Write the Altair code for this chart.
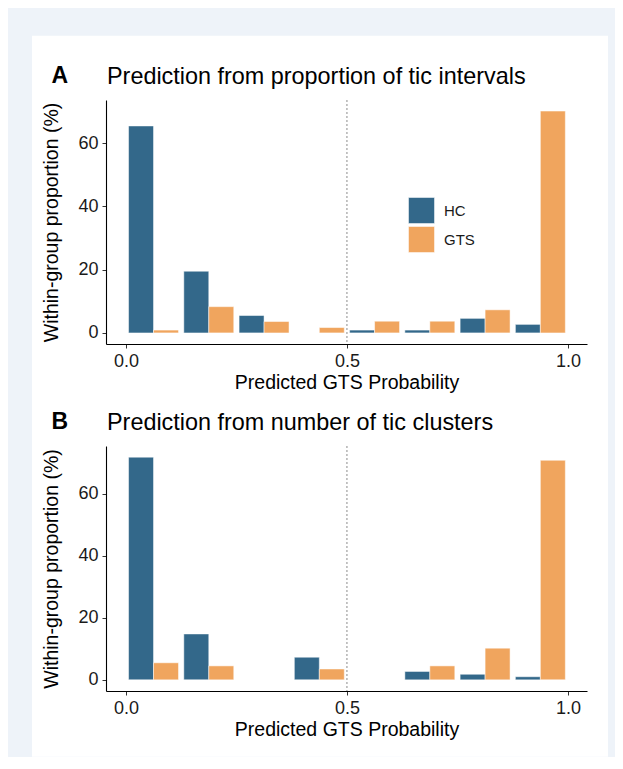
import altair as alt
import pandas as pd

FONT = "Liberation Sans"

# ---- data ----
bin_edges = [0.0, 0.125, 0.25, 0.375, 0.5, 0.625, 0.75, 0.875, 1.0]
groups = ["HC", "GTS"]
colors = ["#33688A", "#F0A55E"]

hc_a = [65.4, 19.5, 5.5, 0.0, 0.9, 0.9, 4.6, 2.7]
gts_a = [0.9, 8.3, 3.6, 1.7, 3.7, 3.7, 7.3, 70.1]
hc_b = [71.8, 14.8, 0.0, 7.3, 0.0, 2.7, 1.8, 1.0]
gts_b = [5.5, 4.5, 0.0, 3.5, 0.0, 4.5, 10.2, 70.8]

titles = ["Prediction from proportion of tic intervals",
          "Prediction from number of tic clusters"]
tags = ["A", "B"]
x_ticks = [0.0, 0.5, 1.0]
y_ticks = [0, 20, 40, 60]
threshold = [0.5]
x_title = "Predicted GTS Probability"
y_title = "Within-group proportion (%)"


def bars_df(hc, gts):
    rows = []
    gap = 0.006
    for i in range(len(bin_edges) - 1):
        lo, hi = bin_edges[i], bin_edges[i + 1]
        mid = (lo + hi) / 2
        if hc[i] > 0:
            rows.append(dict(group="HC", x0=lo + gap, x1=mid, value=hc[i]))
        if gts[i] > 0:
            rows.append(dict(group="GTS", x0=mid, x1=hi - gap, value=gts[i]))
    return pd.DataFrame(rows)


def panel(hc, gts, title, tag, ydom, height, legend, card):
    xs = alt.Scale(domain=[-0.045, 1.043], nice=False, zero=False)
    ys = alt.Scale(domain=ydom, nice=False, zero=False)
    layers = []
    if card:
        layers.append(
            alt.Chart(pd.DataFrame({"c": [1]})).mark_rect(fill="white").encode(
                x=alt.value(-74), x2=alt.value(502),
                y=alt.value(-64.3), y2=alt.value(656.7)
            )
        )
    bars = alt.Chart(bars_df(hc, gts)).mark_rect(stroke="white", strokeWidth=0.5).encode(
        x=alt.X("x0:Q", scale=xs,
                axis=alt.Axis(values=x_ticks, format=".1f", title=x_title,
                              zindex=1, titlePadding=3)),
        x2="x1:Q",
        y=alt.Y("value:Q", scale=ys,
                axis=alt.Axis(values=y_ticks, title=y_title, zindex=1,
                              titlePadding=16)),
        y2=alt.datum(0),
        color=alt.Color("group:N", scale=alt.Scale(domain=groups, range=colors),
                        legend=legend),
    )
    rule = alt.Chart(pd.DataFrame({"p": threshold})).mark_rule(
        color="#8c8c8c", strokeDash=[2, 2], strokeWidth=1
    ).encode(x=alt.X("p:Q", scale=xs, title=x_title))
    ttl = alt.Chart(pd.DataFrame({"t": [title]})).mark_text(
        align="left", baseline="alphabetic", fontSize=23.4, font=FONT, color="black"
    ).encode(x=alt.value(1), y=alt.value(-16), text="t:N")
    tg = alt.Chart(pd.DataFrame({"t": [tag]})).mark_text(
        align="left", baseline="alphabetic", fontSize=23, font=FONT,
        fontWeight="bold", color="black"
    ).encode(x=alt.value(-54.5), y=alt.value(-17.5), text="t:N")
    layers += [bars, rule, ttl, tg]
    return alt.layer(*layers).properties(width=481, height=height)


legend_a = alt.Legend(
    orient="none", legendX=302, legendY=97, title=None,
    symbolType="square", symbolSize=676, symbolStrokeColor="white",
    symbolStrokeWidth=0.5, labelFontSize=15, labelFont=FONT,
    labelColor="#1a1a1a", rowPadding=0, labelOffset=9, padding=0,
)

pa = panel(hc_a, gts_a, titles[0], tags[0], [-3.5, 73.6], 244, legend_a, True)
pb = panel(hc_b, gts_b, titles[1], tags[1], [-3.6, 75.4], 245, None, False)

chart = alt.vconcat(pa, pb, spacing=102, bounds="flush").resolve_scale(
    color="independent"
).properties(
    background="#EEF3F9",
    padding={"left": 24, "top": 27, "right": 7, "bottom": 0},
).configure_axis(
    domainColor="black", domainWidth=1.1, tickColor="#333333", tickSize=4,
    tickWidth=1, labelFontSize=18, labelFont=FONT, labelColor="#1a1a1a",
    titleFontSize=19.5, titleFont=FONT, titleFontWeight="normal",
    titleColor="black", grid=False, labelPadding=4,
).configure_view(
    stroke=None
)

chart.save("out.html", embed_options={"renderer": "svg", "actions": False})
